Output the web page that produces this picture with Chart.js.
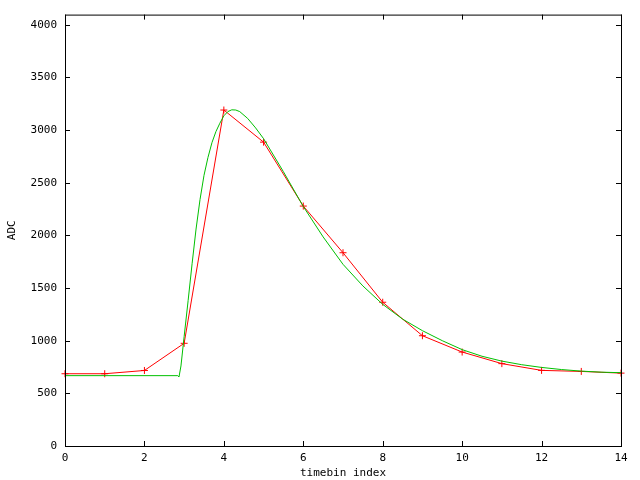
<!DOCTYPE html>
<html lang="en">
<head>
    <meta charset="UTF-8">
    <title>ADC vs timebin index</title>
    <script src="https://cdn.jsdelivr.net/npm/chart.js"></script>
    <style>
        body { margin: 0; background-color: #FFFFFF; }
    </style>
</head>
<body>
    <canvas id="myChart" width="640" height="480"></canvas>

    <script>
        // measured samples (red, with + markers)
        const sampleX = [0, 1, 2, 3, 4, 5, 6, 7, 8, 9, 10, 11, 12, 13, 14];
        const sampleY = [686, 686, 717, 975, 3190, 2885, 2278, 1835, 1365, 1047, 892, 782, 718, 708, 692];

        // fitted pulse shape (green)
        const fitX = [0, 2.84, 2.87, 2.92, 3.0, 3.1, 3.2, 3.3, 3.4, 3.5, 3.6, 3.7, 3.8, 3.9, 4.0, 4.1, 4.2, 4.3, 4.4,
                      4.6, 4.8, 5.0, 5.5, 6.0, 6.5, 7.0, 7.5, 8.0, 8.5, 9.0, 9.5, 10.0,
                      10.5, 11.0, 11.5, 12.0, 12.5, 13.0, 13.5, 14];
        const fitY = [668, 668, 655, 760, 1040, 1380, 1730, 2060, 2340, 2570, 2740, 2880, 2985, 3065, 3135, 3175, 3192, 3190, 3175,
                      3110, 3020, 2918, 2604, 2274, 1985, 1725, 1520, 1345, 1205, 1095, 1000, 915,
                      852, 806, 772, 746, 726, 711, 701, 696];

        // axis ticks
        const xTicks = [0, 2, 4, 6, 8, 10, 12, 14];
        const yTicks = [0, 500, 1000, 1500, 2000, 2500, 3000, 3500, 4000];
        const xMin = 0, xMax = 14;
        const yMin = 0, yMax = 4096;

        const toPoints = (xs, ys) => xs.map((x, i) => ({ x: x, y: ys[i] }));

        const TICK = 5;
        const FONT = { family: 'DejaVu Sans Mono', size: 11 };

        // gnuplot-like border with inward ticks on all four sides
        const frame = {
            id: 'frame',
            afterDraw(chart) {
                const { ctx, chartArea: a, scales: { x, y } } = chart;
                ctx.save();
                ctx.strokeStyle = '#000000';
                ctx.lineWidth = 1;
                ctx.strokeRect(a.left + 0.5, a.top + 0.5, a.right - a.left, a.bottom - a.top);
                ctx.beginPath();
                xTicks.forEach(v => {
                    const px = Math.round(x.getPixelForValue(v)) + 0.5;
                    ctx.moveTo(px, a.bottom); ctx.lineTo(px, a.bottom - TICK);
                    ctx.moveTo(px, a.top); ctx.lineTo(px, a.top + TICK);
                });
                yTicks.forEach(v => {
                    const py = Math.round(y.getPixelForValue(v)) + 0.5;
                    ctx.moveTo(a.left, py); ctx.lineTo(a.left + TICK, py);
                    ctx.moveTo(a.right, py); ctx.lineTo(a.right - TICK, py);
                });
                ctx.stroke();
                ctx.restore();
            }
        };

        const ctx = document.getElementById('myChart').getContext('2d');
        const chart = new Chart(ctx, {
            type: 'scatter',
            data: {
                datasets: [{
                    label: 'fit',
                    data: toPoints(fitX, fitY),
                    showLine: true,
                    borderColor: '#00C000',
                    borderWidth: 1,
                    pointRadius: 0,
                    tension: 0,
                    order: 1,
                }, {
                    label: 'data',
                    data: toPoints(sampleX, sampleY),
                    showLine: true,
                    borderColor: '#FF0000',
                    backgroundColor: '#FF0000',
                    borderWidth: 1,
                    pointStyle: 'cross',
                    pointRadius: 3.5,
                    pointBorderWidth: 1,
                    tension: 0,
                    clip: false,
                    order: 2,
                }]
            },
            plugins: [frame],
            options: {
                responsive: false,
                animation: false,
                events: [],
                layout: { padding: { top: 13, right: 19, left: 0, bottom: 0 } },
                plugins: {
                    legend: { display: false },
                    tooltip: { enabled: false },
                },
                scales: {
                    x: {
                        type: 'linear',
                        min: xMin,
                        max: xMax,
                        afterFit: s => { s.height = 34; },
                        afterBuildTicks: s => { s.ticks = xTicks.map(v => ({ value: v })); },
                        border: { display: false },
                        grid: { display: false, drawTicks: false },
                        ticks: {
                            autoSkip: false, maxRotation: 0, padding: 6, color: '#000000', font: FONT,
                            callback: v => String(v),
                        },
                        title: {
                            display: true,
                            text: 'timebin index',
                            color: '#000000',
                            font: FONT,
                            padding: { top: 0, bottom: 0 },
                        }
                    },
                    y: {
                        type: 'linear',
                        min: yMin,
                        max: yMax,
                        afterFit: s => { s.width = 65; },
                        afterBuildTicks: s => { s.ticks = yTicks.map(v => ({ value: v })); },
                        border: { display: false },
                        grid: { display: false, drawTicks: false },
                        ticks: {
                            autoSkip: false, padding: 8, color: '#000000', font: FONT,
                            callback: v => String(v),
                        },
                        title: {
                            display: true,
                            text: 'ADC',
                            color: '#000000',
                            font: FONT,
                            padding: { top: 6, bottom: 0 },
                        }
                    }
                }
            }
        });
    </script>
</body>
</html>
